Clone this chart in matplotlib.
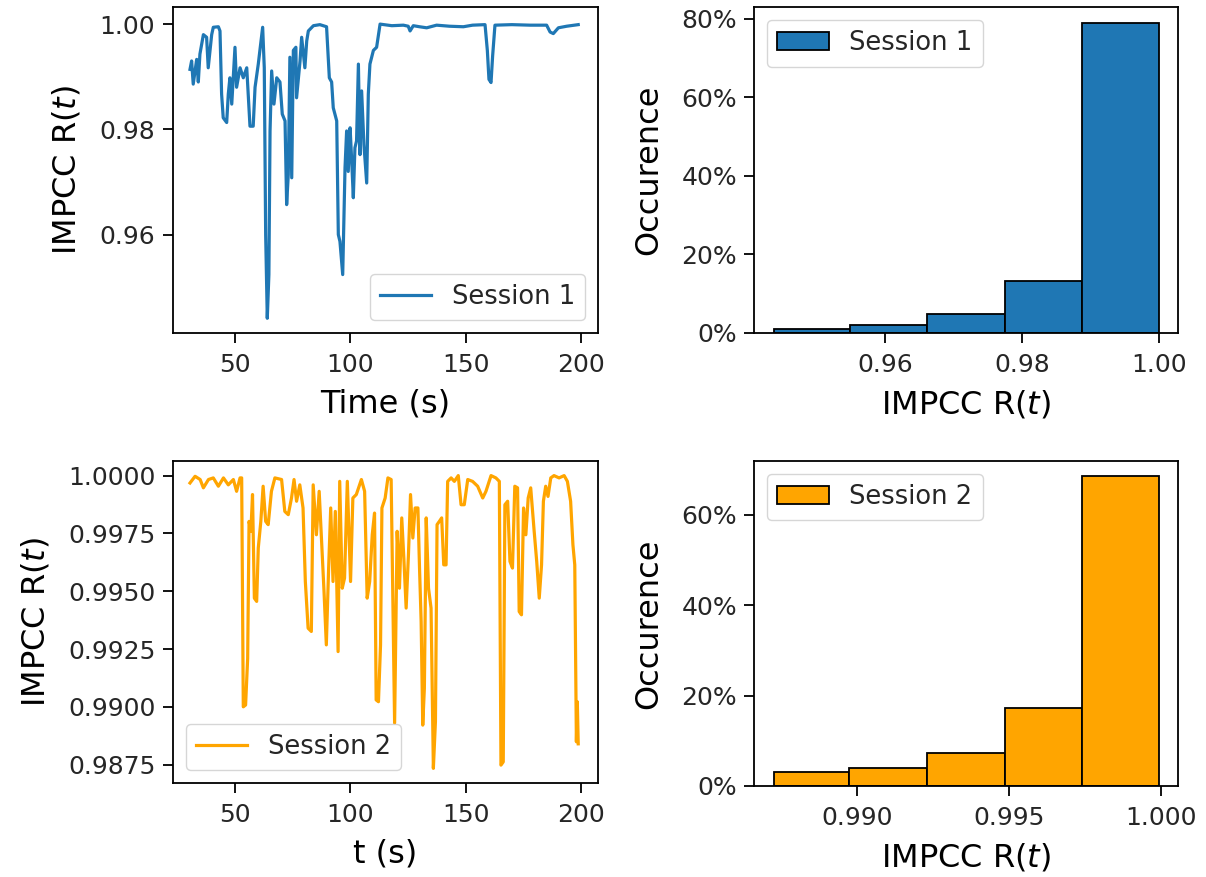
import numpy as np
import matplotlib
matplotlib.use('Agg')
import matplotlib.pyplot as plt
from matplotlib.ticker import PercentFormatter

# session 1 time series
t1 = [30.5, 31.2, 31.9, 33.4, 34.1, 34.8, 36.3, 37.7, 38.4, 39.9, 40.6, 42.8, 43.5, 44.2,
      44.9, 46.4, 47.1, 47.8, 48.6, 50.0, 50.7, 52.2, 53.6, 55.1, 56.5, 57.9, 58.7, 60.1,
      60.8, 62.0, 62.7, 63.3, 64.0, 64.7, 65.2, 65.9, 66.9, 68.1, 69.5, 70.5, 71.7, 72.4,
      73.1, 73.8, 74.6, 75.3, 76.4, 76.7, 78.2, 78.9, 80.3, 81.1, 81.8, 84.0, 86.8, 89.7,
      90.9, 91.9, 92.6, 94.1, 94.8, 95.5, 96.7, 97.7, 98.4, 99.1, 99.9, 100.6, 101.3, 102.0,
      102.7, 103.5, 104.2, 104.9, 105.9, 107.1, 107.8, 108.5, 110.0, 111.4, 112.9, 118.0,
      123.0, 125.1, 125.9, 127.3, 130.0, 133.1, 137.4, 143.0, 149.0, 153.0, 158.4, 159.4,
      160.1, 161.0, 161.7, 162.7, 170.0, 178.0, 185.1, 186.6, 188.0, 190.2, 193.8, 198.8]
r1 = [0.9914, 0.9930, 0.9886, 0.9933, 0.9890, 0.9943, 0.9980, 0.9975, 0.9917, 0.9980, 0.9994,
      0.9995, 0.9987, 0.9867, 0.9822, 0.9813, 0.9867, 0.9898, 0.9848, 0.9956, 0.9880, 0.9917,
      0.9898, 0.9917, 0.9806, 0.9806, 0.9880, 0.9924, 0.9950, 0.9994, 0.9917, 0.9600, 0.9441,
      0.9524, 0.9797, 0.9911, 0.9848, 0.9898, 0.9890, 0.9829, 0.9816, 0.9657, 0.9714, 0.9937,
      0.9708, 0.9950, 0.9956, 0.9860, 0.9930, 0.9975, 0.9917, 0.9968, 0.9987, 0.9997, 0.9999,
      0.9995, 0.9898, 0.9890, 0.9841, 0.9816, 0.9600, 0.9587, 0.9524, 0.9727, 0.9797, 0.9720,
      0.9803, 0.9740, 0.9670, 0.9765, 0.9778, 0.9924, 0.9752, 0.9873, 0.9771, 0.9698, 0.9867,
      0.9924, 0.9950, 0.9956, 1.0000, 0.9997, 0.9998, 0.9996, 0.9987, 0.9997, 0.9995, 0.9993,
      0.9998, 0.9996, 0.9995, 0.9998, 0.9999, 0.9950, 0.9895, 0.9889, 0.9940, 0.9998, 0.9999,
      0.9998, 0.9998, 0.9985, 0.9982, 0.9993, 0.9996, 0.9999]

# session 2 time series
t2 = [30.5, 32.7, 34.9, 36.3, 38.5, 40.6, 42.8, 45.0, 47.1, 49.3, 50.7, 52.2, 52.9, 53.6,
      54.6, 55.5, 56.1, 56.9, 57.6, 58.4, 59.4, 60.1, 61.2, 62.2, 63.3, 64.4, 65.8, 67.3,
      70.2, 71.6, 73.1, 74.5, 75.6, 76.7, 78.1, 79.5, 80.5, 81.7, 83.1, 83.9, 85.3, 86.5,
      87.5, 88.6, 89.6, 90.6, 91.5, 92.5, 93.5, 94.7, 95.4, 96.5, 97.5, 98.7, 100.1, 101.1,
      102.6, 104.8, 106.2, 107.3, 108.4, 109.5, 110.5, 111.2, 112.2, 113.1, 113.7, 115.1,
      116.3, 117.7, 119.2, 120.3, 121.3, 122.3, 123.2, 124.2, 125.2, 126.1, 127.1, 128.1,
      129.3, 130.0, 130.7, 131.4, 132.1, 132.9, 133.9, 135.0, 136.0, 136.9, 137.6, 138.6,
      139.6, 140.5, 141.5, 142.2, 143.7, 145.1, 146.8, 148.0, 149.4, 150.9, 153.0, 155.2,
      157.4, 158.8, 161.0, 163.1, 164.6, 165.3, 166.3, 167.0, 168.2, 169.2, 170.3, 171.3,
      172.5, 173.2, 174.2, 175.1, 176.1, 177.1, 178.2, 179.7, 180.8, 181.9, 182.9, 183.7,
      184.7, 185.7, 186.9, 188.3, 190.5, 192.7, 194.1, 195.5, 196.5, 197.3, 198.0, 198.4, 198.8]
r2 = [0.99968, 0.99997, 0.99983, 0.99947, 0.99983, 0.99990, 0.99954, 0.99990, 0.99960, 0.99983,
      0.99932, 0.99990, 0.99990, 0.99000, 0.99008, 0.99210, 0.99802, 0.99759, 0.99918, 0.99470,
      0.99456, 0.99687, 0.99802, 0.99954, 0.99802, 0.99788, 0.99932, 0.99990, 0.99983, 0.99845,
      0.99831, 0.99903, 0.99983, 0.99889, 0.99960, 0.99860, 0.99542, 0.99340, 0.99326, 0.99960,
      0.99744, 0.99932, 0.99730, 0.99499, 0.99268, 0.99600, 0.99860, 0.99542, 0.99845, 0.99239,
      0.99975, 0.99513, 0.99557, 0.99975, 0.99542, 0.99903, 0.99918, 0.99983, 0.99932, 0.99470,
      0.99542, 0.99744, 0.99838, 0.99030, 0.99022, 0.99268, 0.99860, 0.99903, 0.99990, 0.99983,
      0.98930, 0.99759, 0.99513, 0.99817, 0.99643, 0.99427, 0.99658, 0.99918, 0.99730, 0.99860,
      0.99860, 0.99600, 0.99369, 0.98921, 0.99080, 0.99817, 0.99513, 0.99427, 0.98734, 0.98936,
      0.99788, 0.99802, 0.99817, 0.99614, 0.99614, 0.99975, 0.99990, 0.99975, 1.00000, 0.99874,
      0.99874, 0.99983, 0.99975, 0.99954, 0.99903, 0.99932, 1.00000, 0.99990, 0.99975, 0.98748,
      0.98762, 0.99874, 0.99889, 0.99629, 0.99600, 0.99954, 0.99947, 0.99412, 0.99398, 0.99860,
      0.99744, 0.99903, 0.99947, 0.99759, 0.99629, 0.99470, 0.99614, 0.99889, 0.99954, 0.99910,
      0.99990, 1.00000, 0.99990, 1.00000, 0.99975, 0.99889, 0.99701, 0.99614, 0.98849, 0.99022,
      0.98840]

# histograms: bin edges and fraction of samples per bin
edges1 = [0.94367, 0.95481, 0.96611, 0.97745, 0.98876, 0.99990]
frac1 = [0.009, 0.020, 0.049, 0.132, 0.790]
edges2 = [0.98724, 0.98972, 0.99229, 0.99486, 0.99740, 0.99991]
frac2 = [0.030, 0.039, 0.073, 0.173, 0.685]

blue = '#1f77b4'
orange = 'orange'
tick_fs = 18
label_fs = 23
leg_fs = 18.5

plt.rcParams['axes.linewidth'] = 1.3
plt.rcParams['xtick.major.size'] = 7.5
plt.rcParams['ytick.major.size'] = 7.5
plt.rcParams['xtick.major.width'] = 1.3
plt.rcParams['ytick.major.width'] = 1.3
plt.rcParams['xtick.major.pad'] = 7
plt.rcParams['ytick.major.pad'] = 5
plt.rcParams['text.color'] = '#262626'
plt.rcParams['xtick.labelcolor'] = '#262626'
plt.rcParams['ytick.labelcolor'] = '#262626'

fig = plt.figure(figsize=(12.06, 8.77), dpi=100)
ax1 = fig.add_axes([0.1432, 0.6203, 0.3529, 0.3714])
ax2 = fig.add_axes([0.6255, 0.6203, 0.3511, 0.3714])
ax3 = fig.add_axes([0.1432, 0.1072, 0.3529, 0.3672])
ax4 = fig.add_axes([0.6255, 0.1038, 0.3511, 0.3706])

ax1.plot(t1, r1, color=blue, lw=2.3, label='Session 1')
ax1.set_xlim(23, 207.5)
ax1.set_ylim(0.9413, 1.0032)
ax1.set_yticks([0.96, 0.98, 1.00])
ax1.set_xticks([50, 100, 150, 200])
ax1.set_xlabel('Time (s)', fontsize=label_fs, labelpad=8)
ax1.set_ylabel('IMPCC R($t$)', fontsize=label_fs, labelpad=12)
ax1.legend(loc='lower right', fontsize=leg_fs)

ax3.plot(t2, r2, color=orange, lw=2.3, label='Session 2')
ax3.set_xlim(23, 207.5)
ax3.set_xticks([50, 100, 150, 200])
ax3.set_xlabel('t (s)', fontsize=label_fs, labelpad=8)
ax3.set_ylabel('IMPCC R($t$)', fontsize=label_fs, labelpad=12)
ax3.legend(loc='lower left', fontsize=leg_fs)

ax2.bar(edges1[:-1], frac1, width=np.diff(edges1), align='edge', color=blue,
        edgecolor='black', lw=1.3, label='Session 1')
ax2.set_xticks([0.96, 0.98, 1.00])
ax2.yaxis.set_major_formatter(PercentFormatter(1.0, decimals=0))
ax2.set_xlabel('IMPCC R($t$)', fontsize=label_fs, labelpad=8)
ax2.set_ylabel('Occurence', fontsize=label_fs, labelpad=12)
ax2.legend(loc='upper left', fontsize=leg_fs)

ax4.bar(edges2[:-1], frac2, width=np.diff(edges2), align='edge', color=orange,
        edgecolor='black', lw=1.3, label='Session 2')
ax4.set_xticks([0.990, 0.995, 1.000])
ax4.yaxis.set_major_formatter(PercentFormatter(1.0, decimals=0))
ax4.set_xlabel('IMPCC R($t$)', fontsize=label_fs, labelpad=8)
ax4.set_ylabel('Occurence', fontsize=label_fs, labelpad=12)
ax4.legend(loc='upper left', fontsize=leg_fs)

for ax in (ax1, ax2, ax3, ax4):
    ax.tick_params(labelsize=tick_fs)

fig.savefig('out.png', dpi=100)
